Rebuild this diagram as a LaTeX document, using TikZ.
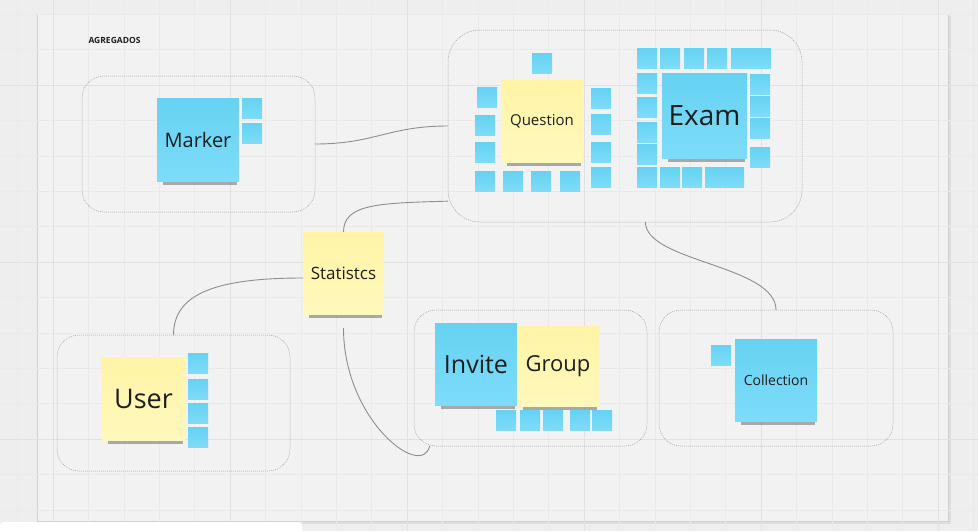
\documentclass[tikz,border=0pt]{standalone}
\usepackage{fontspec}
\setmainfont{Open Sans}
\usetikzlibrary{shadows}
\definecolor{boardbg}{HTML}{EEEEEE}
\definecolor{framebg}{HTML}{F2F2F2}
\definecolor{gridminor}{HTML}{EAEAEA}
\definecolor{gridmajor}{HTML}{E1E1E1}
\definecolor{stickyblue}{HTML}{66D2F2}
\definecolor{stickybluelight}{HTML}{7EDCFA}
\definecolor{stickyyellow}{HTML}{FFF4A6}
\definecolor{stickyyellowlight}{HTML}{FFF8BC}
\definecolor{linkgray}{HTML}{8E8E8E}
\definecolor{inkdark}{HTML}{1E1E1E}
\tikzset{
  minorline/.style={gridminor, line width=0.5pt},
  majorline/.style={gridmajor, line width=0.7pt},
  aggbox/.style={draw=black!38, line width=0.5pt, dash pattern=on 1pt off 1pt,
    rounded corners=22pt, inner sep=0pt, outer sep=0pt},
  link/.style={linkgray, line width=0.9pt},
  softshadow/.style={
    drop shadow={shadow scale=0.9, shadow xshift=2pt, shadow yshift=-9pt, opacity=0.3, fill=black},
    drop shadow={shadow scale=0.87, shadow xshift=2pt, shadow yshift=-6pt, opacity=0.5, fill=black}},
  sticky/.style={inner sep=0pt, outer sep=0pt, minimum width=82pt, minimum height=82pt,
    text=inkdark, softshadow},
  bluenote/.style={sticky, top color=stickyblue, bottom color=stickybluelight},
  yellownote/.style={sticky, top color=stickyyellow, bottom color=stickyyellowlight},
  mini/.style={inner sep=0pt, outer sep=0pt, minimum size=20pt, anchor=north west,
    top color=stickyblue, bottom color=stickybluelight,
    drop shadow={shadow scale=0.9, shadow xshift=0pt, shadow yshift=-2.5pt,
    opacity=0.35, fill=black}}
}
\begin{document}
\begin{tikzpicture}[x=1pt, y=-1pt]
    \useasboundingbox (0,0) rectangle (978,531);
    %Fundo
    \fill[boardbg] (0,0) rectangle (978,531);
    \fill[black!13] (39,16) rectangle (951,524);
    \filldraw[fill=framebg, draw=black!18, line width=0.6pt] (37,14) rectangle (948,521);
    %Grade
    \foreach \i in {0,...,27} \draw[minorline] ({17.6+35.4*\i},0) -- ({17.6+35.4*\i},531);
    \foreach \i in {0,...,14} \draw[minorline] (0,{14.2+35.4*\i}) -- (978,{14.2+35.4*\i});
    \foreach \x in {53,230,407,584,761,938} \draw[majorline] (\x,0) -- (\x,531);
    \foreach \y in {85,262,439} \draw[majorline] (0,\y) -- (978,\y);
    \fill[white, rounded corners=3pt] (0,522) rectangle (302,545);
    %Titulo
    \node[anchor=west, text=inkdark, font=\bfseries\fontsize{8.5}{10}\selectfont] (title) at (85,40) {AGREGADOS};
    %Agregados
    \node[aggbox, minimum width=233pt, minimum height=136pt] (mkgrp) at (198.5,144) {};
    \node[aggbox, rounded corners=32pt, minimum width=354pt, minimum height=192pt] (qegrp) at (625,126) {};
    \node[aggbox, minimum width=233pt, minimum height=136pt] (usgrp) at (173.5,403) {};
    \node[aggbox, minimum width=233pt, minimum height=136pt] (iggrp) at (530.5,378) {};
    \node[aggbox, minimum width=234pt, minimum height=136pt] (cogrp) at (776,378) {};
    %Marker
    \foreach \x/\y [count=\i] in {242/98, 242/123} \node[mini] (mk\i) at (\x,\y) {};
    \node[bluenote, minimum height=83pt, font=\fontsize{20}{24}\selectfont] (marker) at (198,139.5) {Marker};
    %Question
    \foreach \x/\y [count=\i] in {532/53, 477/87, 475/115, 475/142, 475/171, 503/171, 531/171,
        560/171, 591/88, 591/114, 591/142, 591/167} \node[mini] (qn\i) at (\x,\y) {};
    \node[yellownote, font=\fontsize{15}{18}\selectfont] (question) at (542,121) {Question};
    %Exam
    \foreach \x/\y [count=\i] in {637/48, 660/48, 684/48, 707/48, 731/48, 751/48,
        637/73, 637/97, 637/122, 637/144, 637/167, 660/167, 682/167, 705/167, 724/167,
        750/74, 750/96, 750/118, 750/147} \node[mini] (ex\i) at (\x,\y) {};
    \node[bluenote, minimum width=85pt, minimum height=85pt, font=\fontsize{28}{32}\selectfont] (exam) at (704.5,115.5) {Exam};
    %Statistcs
    \node[yellownote, minimum width=81pt, font=\fontsize{17}{20}\selectfont] (stat) at (343.5,273) {Statistcs};
    %User
    \foreach \x/\y [count=\i] in {188/353, 188/379, 188/403, 188/427} \node[mini] (us\i) at (\x,\y) {};
    \node[yellownote, minimum width=83pt, minimum height=83pt, font=\fontsize{27}{32}\selectfont] (user) at (143.5,398.5) {User};
    %Invite e Group
    \foreach \x/\y [count=\i] in {496/410, 520/410, 543/410, 570/410, 592/410} \node[mini] (ig\i) at (\x,\y) {};
    \node[bluenote, font=\fontsize{25}{30}\selectfont] (invite) at (476,364) {Invite};
    \node[yellownote, minimum height=80pt, font=\fontsize{22}{26}\selectfont] (group) at (558,366) {Group};
    %Collection
    \node[mini] (co1) at (711,345) {};
    \node[bluenote, font=\fontsize{14}{17}\selectfont] (collection) at (776,380) {Collection};
    %Ligacoes
    \draw[link] (mkgrp.east) .. controls +(60,0) and +(-60,0) .. (qegrp.west);
    \draw[link] (stat.north) .. controls +(0,-28) and +(-70,2) .. (qegrp.203);
    \draw[link] ([yshift=-5pt]stat.west) .. controls +(-90,0) and +(0,-40) .. (usgrp.north);
    \draw[link] ([yshift=-14pt]stat.south) .. controls +(0,92) and +(-8,34) .. (iggrp.214);
    \draw[link] (qegrp.282) .. controls +(0,40) and +(0,-45) .. (cogrp.north);
\end{tikzpicture}
\end{document}
